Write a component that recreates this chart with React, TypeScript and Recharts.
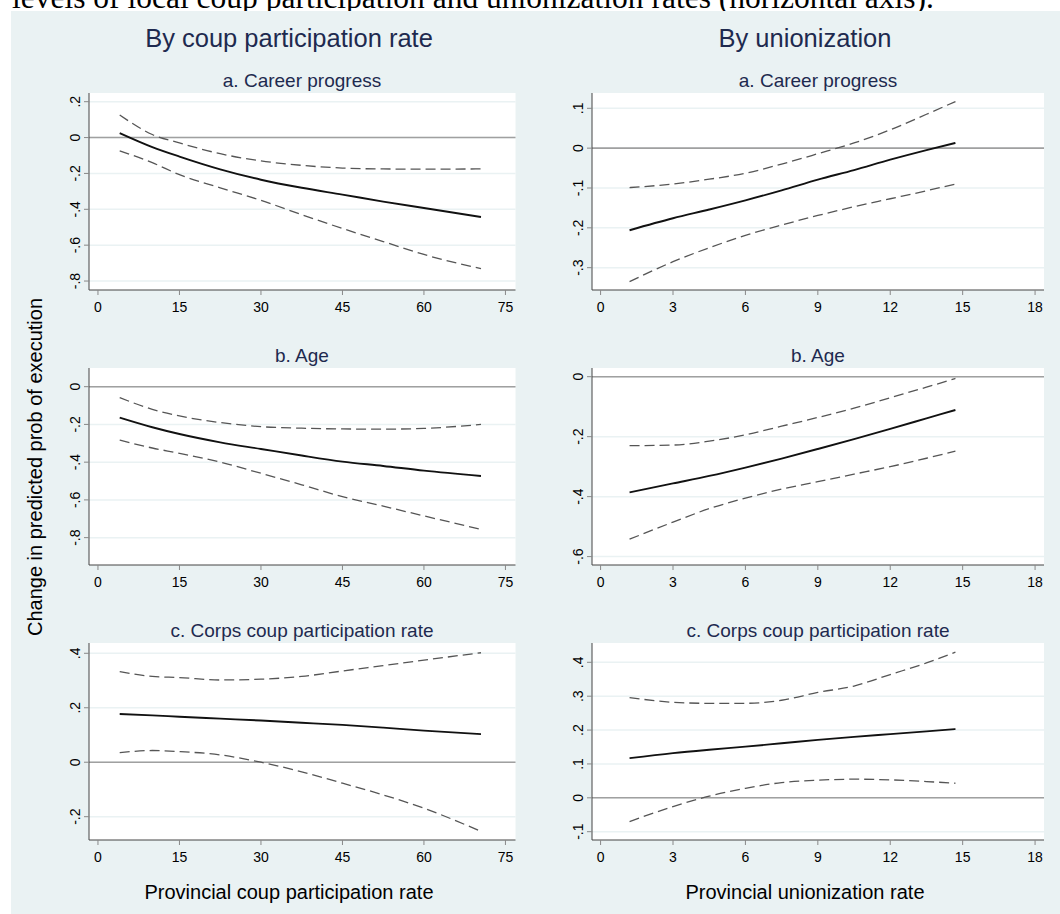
import { LineChart, Line, XAxis, YAxis, CartesianGrid, ReferenceLine } from 'recharts';

// horizontal axis values (provincial rates)
const coupRate = [4, 10, 15, 22.5, 30, 37.5, 45, 52.5, 60, 70.5];
const unionRate = [1.2, 3, 4.5, 6, 7.5, 9, 10.5, 12, 13.5, 14.7];

// a. Career progress
const careerCoupEst = [0.025, -0.053, -0.106, -0.177, -0.235, -0.28, -0.318, -0.357, -0.393, -0.443];
const careerCoupHi = [0.126, 0.017, -0.03, -0.09, -0.13, -0.155, -0.17, -0.175, -0.176, -0.175];
const careerCoupLo = [-0.074, -0.14, -0.207, -0.28, -0.35, -0.43, -0.507, -0.58, -0.652, -0.731];
const careerUnionEst = [-0.206, -0.176, -0.154, -0.131, -0.106, -0.079, -0.055, -0.029, -0.005, 0.013];
const careerUnionHi = [-0.099, -0.09, -0.078, -0.063, -0.04, -0.014, 0.013, 0.046, 0.085, 0.117];
const careerUnionLo = [-0.335, -0.285, -0.25, -0.219, -0.193, -0.169, -0.147, -0.127, -0.107, -0.09];

// b. Age
const ageCoupEst = [-0.164, -0.215, -0.251, -0.295, -0.33, -0.365, -0.397, -0.42, -0.445, -0.473];
const ageCoupHi = [-0.058, -0.12, -0.155, -0.19, -0.212, -0.22, -0.224, -0.225, -0.221, -0.2];
const ageCoupLo = [-0.283, -0.325, -0.353, -0.4, -0.459, -0.52, -0.583, -0.633, -0.685, -0.756];
const ageUnionEst = [-0.386, -0.356, -0.331, -0.303, -0.273, -0.241, -0.208, -0.174, -0.139, -0.111];
const ageUnionHi = [-0.23, -0.228, -0.215, -0.194, -0.165, -0.136, -0.105, -0.07, -0.035, -0.006];
const ageUnionLo = [-0.542, -0.485, -0.44, -0.405, -0.375, -0.35, -0.325, -0.3, -0.272, -0.248];

// c. Corps coup participation rate
const corpsCoupEst = [0.177, 0.172, 0.167, 0.16, 0.153, 0.145, 0.137, 0.127, 0.116, 0.103];
const corpsCoupHi = [0.333, 0.315, 0.311, 0.302, 0.305, 0.315, 0.335, 0.355, 0.375, 0.402];
const corpsCoupLo = [0.035, 0.043, 0.039, 0.027, 0.0, -0.035, -0.077, -0.12, -0.169, -0.254];
const corpsUnionEst = [0.117, 0.132, 0.142, 0.151, 0.161, 0.171, 0.18, 0.188, 0.196, 0.203];
const corpsUnionHi = [0.296, 0.282, 0.279, 0.279, 0.288, 0.311, 0.33, 0.364, 0.398, 0.43];
const corpsUnionLo = [-0.07, -0.026, 0.005, 0.028, 0.045, 0.052, 0.055, 0.053, 0.048, 0.043];

// tick labels
const coupTicks = [0, 15, 30, 45, 60, 75];
const unionTicks = [0, 3, 6, 9, 12, 15, 18];
const careerCoupYTicks = [0.2, 0, -0.2, -0.4, -0.6, -0.8];
const careerUnionYTicks = [0.1, 0, -0.1, -0.2, -0.3];
const ageCoupYTicks = [0, -0.2, -0.4, -0.6, -0.8];
const ageUnionYTicks = [0, -0.2, -0.4, -0.6];
const corpsCoupYTicks = [0.4, 0.2, 0, -0.2];
const corpsUnionYTicks = [0.4, 0.3, 0.2, 0.1, 0, -0.1];

const columnTitles = ['By coup participation rate', 'By unionization'];
const panelTitles = ['a. Career progress', 'b. Age', 'c. Corps coup participation rate'];
const xTitles = ['Provincial coup participation rate', 'Provincial unionization rate'];
const yTitle = 'Change in predicted prob of execution';
const caption = 'levels of local coup participation and unionization rates (horizontal axis).';

const BG = '#eaf2f3';
const NAVY = '#1e2a4f';
const AXIS_W = 40;
const XAXIS_H = 30;
const PLOT_H = 197;
const ROW_TOPS = [93, 368, 643];
const COLS = [
  { left: 89, width: 426.5, xDomain: [-1.65, 76.85], titleX: 302, headX: 289, xTitleX: 289 },
  { left: 592, width: 452, xDomain: [-0.356, 18.37], titleX: 818, headX: 805, xTitleX: 805 },
];

const panels = [
  { row: 0, col: 0, xs: coupRate, est: careerCoupEst, hi: careerCoupHi, lo: careerCoupLo, xTicks: coupTicks, yTicks: careerCoupYTicks, yDomain: [-0.85, 0.2485] },
  { row: 0, col: 1, xs: unionRate, est: careerUnionEst, hi: careerUnionHi, lo: careerUnionLo, xTicks: unionTicks, yTicks: careerUnionYTicks, yDomain: [-0.356, 0.1384] },
  { row: 1, col: 0, xs: coupRate, est: ageCoupEst, hi: ageCoupHi, lo: ageCoupLo, xTicks: coupTicks, yTicks: ageCoupYTicks, yDomain: [-0.945, 0.099] },
  { row: 1, col: 1, xs: unionRate, est: ageUnionEst, hi: ageUnionHi, lo: ageUnionLo, xTicks: unionTicks, yTicks: ageUnionYTicks, yDomain: [-0.628, 0.029] },
  { row: 2, col: 0, xs: coupRate, est: corpsCoupEst, hi: corpsCoupHi, lo: corpsCoupLo, xTicks: coupTicks, yTicks: corpsCoupYTicks, yDomain: [-0.2856, 0.4378] },
  { row: 2, col: 1, xs: unionRate, est: corpsUnionEst, hi: corpsUnionHi, lo: corpsUnionLo, xTicks: unionTicks, yTicks: corpsUnionYTicks, yDomain: [-0.1245, 0.457] },
];

const fmt = (v: number) => (Math.abs(v) < 1e-9 ? '0' : v.toFixed(1).replace('0.', '.'));

function YTick({ x, y, payload }: any) {
  return (
    <text x={x} y={y} transform={`rotate(-90 ${x} ${y})`} textAnchor="middle" fontSize={14} fill="#000">
      {fmt(payload.value)}
    </text>
  );
}

function XTick({ x, y, payload }: any) {
  return (
    <text x={x} y={y + 10} textAnchor="middle" fontSize={14} fill="#000">
      {payload.value}
    </text>
  );
}

function Panel({ p }: { p: (typeof panels)[number] }) {
  const col = COLS[p.col];
  const data = p.xs.map((x, i) => ({ x, est: p.est[i], hi: p.hi[i], lo: p.lo[i] }));
  return (
    <div style={{ position: 'absolute', left: col.left - AXIS_W, top: ROW_TOPS[p.row] }}>
      <LineChart width={AXIS_W + col.width} height={PLOT_H + XAXIS_H} data={data} margin={{ top: 0, right: 0, bottom: 0, left: 0 }}>
        <CartesianGrid vertical={false} horizontalValues={p.yTicks} stroke={BG} strokeWidth={1.5} fill="#fff" fillOpacity={1} />
        <XAxis
          type="number"
          dataKey="x"
          domain={col.xDomain}
          ticks={p.xTicks}
          allowDataOverflow
          height={XAXIS_H}
          tickSize={5}
          tickMargin={7}
          axisLine={{ stroke: '#444' }}
          tickLine={{ stroke: '#888' }}
          tick={<XTick />}
          interval={0}
        />
        <YAxis
          type="number"
          domain={p.yDomain}
          ticks={p.yTicks}
          allowDataOverflow
          width={AXIS_W}
          tickSize={5}
          tickMargin={4}
          axisLine={{ stroke: '#444' }}
          tickLine={{ stroke: '#888' }}
          tick={<YTick />}
          interval={0}
        />
        <ReferenceLine y={0} stroke="#a0a0a0" strokeWidth={1.6} />
        <Line type="monotone" dataKey="hi" stroke="#555" strokeWidth={1.3} strokeDasharray="10 5" dot={false} isAnimationActive={false} />
        <Line type="monotone" dataKey="lo" stroke="#555" strokeWidth={1.3} strokeDasharray="10 5" dot={false} isAnimationActive={false} />
        <Line type="monotone" dataKey="est" stroke="#111" strokeWidth={1.9} dot={false} isAnimationActive={false} />
      </LineChart>
    </div>
  );
}

export default function App() {
  return (
    <div style={{ position: 'absolute', left: 0, top: 0, width: 1060, height: 914, background: '#fff', overflow: 'hidden', fontFamily: "'Liberation Sans', Arial, sans-serif" }}>
      <svg width={1060} height={914} style={{ position: 'absolute', left: 0, top: 0 }}>
        <text x={12} y={7.5} fontSize={31.5} fontFamily="'Liberation Serif', 'Times New Roman', serif" fill="#000">
          {caption}
        </text>
        <rect x={11} y={11} width={1049} height={903} fill={BG} />
        {COLS.map((c, ci) => (
          <text key={`h${ci}`} x={c.headX} y={47} fontSize={25.5} textAnchor="middle" fill={NAVY}>
            {columnTitles[ci]}
          </text>
        ))}
        {COLS.map((c, ci) =>
          panelTitles.map((t, r) => (
            <text key={`${ci}-${r}`} x={c.titleX} y={ROW_TOPS[r] - 6} fontSize={19} textAnchor="middle" fill={NAVY}>
              {t}
            </text>
          ))
        )}
        <text x={42} y={467} transform="rotate(-90 42 467)" fontSize={20} textAnchor="middle" fill="#000">{yTitle}</text>
        {COLS.map((c, ci) => (
          <text key={`x${ci}`} x={c.xTitleX} y={899} fontSize={20} textAnchor="middle" fill="#000">
            {xTitles[ci]}
          </text>
        ))}
      </svg>
      {panels.map((p, i) => (
        <Panel key={i} p={p} />
      ))}
    </div>
  );
}
